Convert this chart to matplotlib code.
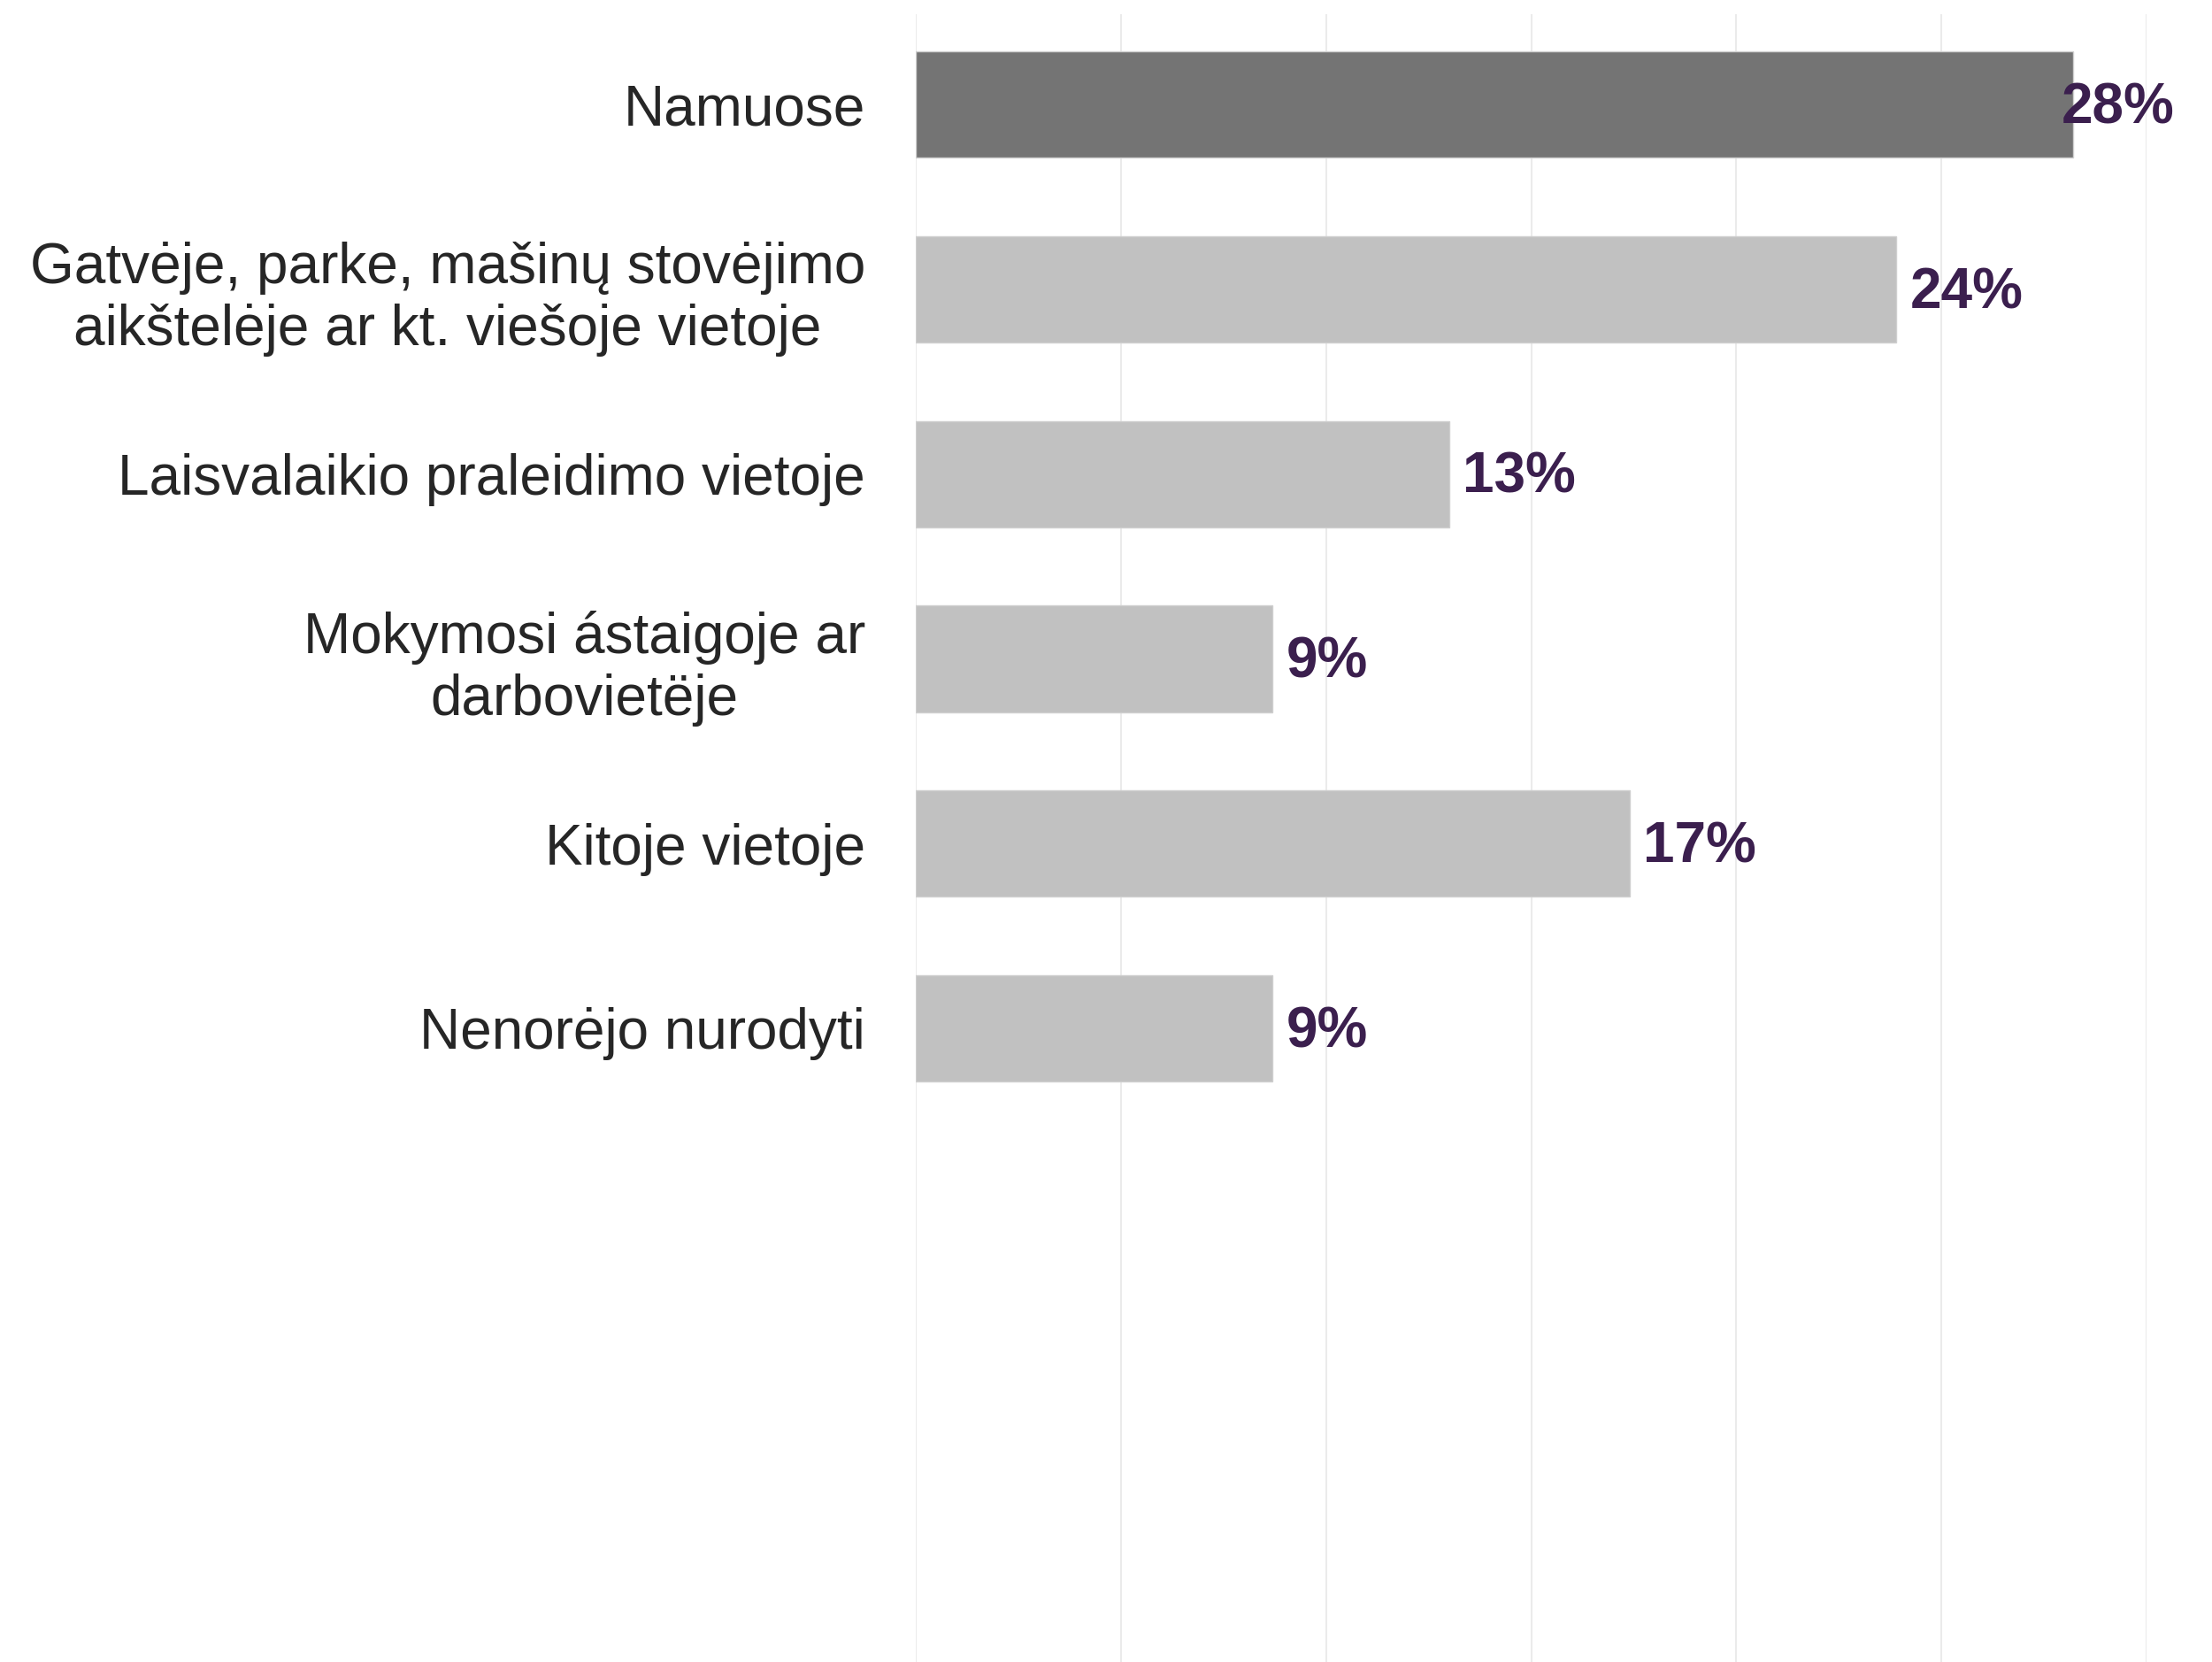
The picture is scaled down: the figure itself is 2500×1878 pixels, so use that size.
import matplotlib.pyplot as plt
import numpy as np

plt.rcParams['font.family'] = ['Liberation Sans', 'DejaVu Sans']

# ---------------- DATA ----------------
categories = [
    "Namuose",
    "Gatvėje, parke, mašinų stovėjimo\naikštelėje ar kt. viešoje vietoje",
    "Laisvalaikio praleidimo vietoje",
    "Mokymosi ástaigoje ar\ndarbovietëje",
    "Kitoje vietoje",
    "Nenorėjo nurodyti",
]
values = [28.2, 23.9, 13.0, 8.7, 17.4, 8.7]
labels = ["28%", "24%", "13%", "9%", "17%", "9%"]
highlight = [True, False, False, False, False, False]

# ---------------- PLOT ----------------
fig = plt.figure(figsize=(25, 18.78), dpi=100)
ax = fig.add_axes([0.414, 0.0, 0.5564, 0.9915])

y = np.arange(len(categories))
colors = ["#747474" if h else "#c1c1c1" for h in highlight]
ax.barh(y, values, height=0.575, color=colors, edgecolor="#cfcfcf",
        linewidth=1.0, zorder=2)

vmax = max(values)
for yi, v, lab in zip(y, values, labels):
    off = -9 if v == vmax else 11
    ax.annotate(lab, xy=(v, yi), xytext=(off, -3), textcoords="offset points",
                ha="left", va="center", fontsize=46, fontweight="bold",
                color="#3b1f4e", zorder=3)

ax.set_xlim(0, 30)
ax.set_xticks([0, 5, 10, 15, 20, 25, 30])
ax.set_ylim(8.43, -0.49)
ax.set_yticks(y)
ax.set_yticklabels(categories, fontsize=46, color="#262626",
                   multialignment="center")
ax.tick_params(axis="y", length=0, pad=41)
ax.tick_params(axis="x", length=0, labelbottom=False)
ax.grid(axis="x", color="#ebebeb", linewidth=1.5, zorder=0)
ax.grid(axis="y", visible=False)
for s in ax.spines.values():
    s.set_visible(False)

fig.savefig("out.png", dpi=100)
